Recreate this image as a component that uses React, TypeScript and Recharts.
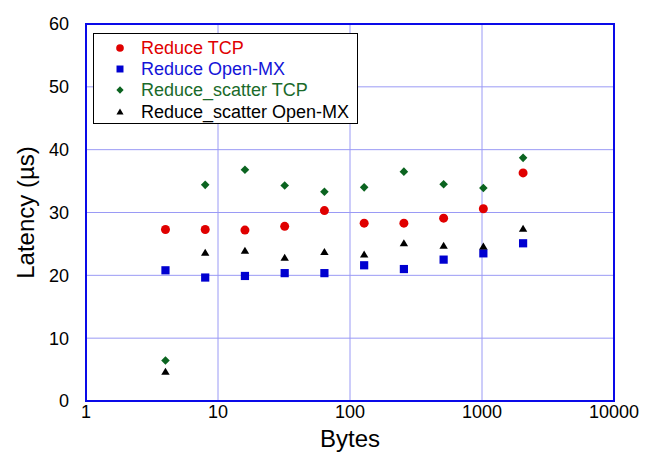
import React from 'react';
import {
  ScatterChart,
  Scatter,
  XAxis,
  YAxis,
  CartesianGrid,
  Label,
  ReferenceArea,
} from 'recharts';

// message size in bytes
const bytes = [4, 8, 16, 32, 64, 128, 256, 512, 1024, 2048];

// latency in µs
const reduceTcp = [27.3, 27.3, 27.2, 27.8, 30.3, 28.3, 28.3, 29.1, 30.6, 36.3];
const reduceOpenMx = [20.8, 19.65, 19.9, 20.35, 20.35, 21.6, 21.0, 22.5, 23.5, 25.1];
const reduceScatterTcp = [6.45, 34.4, 36.8, 34.3, 33.3, 34.0, 36.5, 34.5, 33.9, 38.7];
const reduceScatterOpenMx = [4.65, 23.6, 23.9, 22.8, 23.7, 23.3, 25.1, 24.7, 24.6, 27.4];

const xTicks = [1, 10, 100, 1000, 10000];
const yTicks = [0, 10, 20, 30, 40, 50, 60];

const FONT = '"Liberation Sans", Arial, Helvetica, sans-serif';

const toPoints = (vals: number[]) => bytes.map((b, i) => ({ x: b, y: vals[i] }));

type Kind = 'circle' | 'square' | 'diamond' | 'triangle';

const Marker = ({ kind, cx, cy, color, s = 1 }: { kind: Kind; cx: number; cy: number; color: string; s?: number }) => {
  if (kind === 'circle') return <circle cx={cx} cy={cy} r={4.5 * s} fill={color} />;
  if (kind === 'square') {
    const h = 4.1 * s;
    return <rect x={cx - h} y={cy - h} width={h * 2} height={h * 2} fill={color} />;
  }
  if (kind === 'diamond') {
    const h = 4.3 * s;
    return <polygon points={`${cx},${cy - h} ${cx + h},${cy} ${cx},${cy + h} ${cx - h},${cy}`} fill={color} />;
  }
  const w = 4.2 * s;
  return <polygon points={`${cx},${cy - 4 * s} ${cx + w},${cy + 3 * s} ${cx - w},${cy + 3 * s}`} fill={color} />;
};

const series = [
  { name: 'Reduce TCP', data: reduceTcp, color: '#e00000', text: '#e00000', kind: 'circle' as Kind },
  { name: 'Reduce Open-MX', data: reduceOpenMx, color: '#0000d0', text: '#1414d8', kind: 'square' as Kind },
  { name: 'Reduce_scatter TCP', data: reduceScatterTcp, color: '#0b6420', text: '#1a6a2a', kind: 'diamond' as Kind },
  { name: 'Reduce_scatter Open-MX', data: reduceScatterOpenMx, color: '#000000', text: '#000000', kind: 'triangle' as Kind },
];

const LegendBox = () => (
  <div
    style={{
      position: 'absolute',
      left: 93,
      top: 33,
      border: '1px solid #000',
      background: '#fff',
      width: 265,
      height: 91,
      boxSizing: 'border-box',
      paddingTop: 3,
      fontFamily: FONT,
      fontSize: 18,
    }}
  >
    {series.map((s) => (
      <div key={s.name} style={{ display: 'flex', alignItems: 'center', height: 21.4 }}>
        <svg width={47} height={20} style={{ flexShrink: 0 }}>
          <Marker kind={s.kind} cx={26} cy={10} color={s.color} s={0.85} />
        </svg>
        <span style={{ color: s.text, lineHeight: '20px' }}>{s.name}</span>
      </div>
    ))}
  </div>
);

export default function App() {
  return (
    <div style={{ position: 'absolute', left: 0, top: 0, width: 657, height: 455, background: '#fff' }}>
      <ScatterChart width={657} height={455} margin={{ top: 24, right: 43, bottom: 0, left: 0 }}>
        <CartesianGrid stroke="#9a9af5" strokeWidth={1} />
        <XAxis
          dataKey="x"
          type="number"
          scale="log"
          domain={[1, 10000]}
          ticks={xTicks}
          allowDataOverflow
          height={54}
          axisLine={false}
          tickLine={false}
          tickSize={0}
          tickMargin={4}
          tick={{ fill: '#000', fontSize: 18, fontFamily: FONT }}
        >
          <Label
            value="Bytes"
            position="insideBottom"
            offset={8}
            style={{ fill: '#000', fontSize: 24, fontFamily: FONT }}
          />
        </XAxis>
        <YAxis
          dataKey="y"
          type="number"
          domain={[0, 60]}
          ticks={yTicks}
          width={86}
          axisLine={false}
          tickLine={false}
          tickSize={0}
          tickMargin={17}
          tick={{ fill: '#000', fontSize: 18, fontFamily: FONT }}
        >
          <Label
            value="Latency (µs)"
            angle={-90}
            position="insideLeft"
            offset={25}
            style={{ fill: '#000', fontSize: 24, fontFamily: FONT, textAnchor: 'middle' }}
          />
        </YAxis>
        <ReferenceArea x1={1} x2={10000} y1={0} y2={60} fill="none" stroke="#0a0ae8" strokeWidth={2} />
        {series.map((s) => (
          <Scatter
            key={s.name}
            name={s.name}
            data={toPoints(s.data)}
            fill={s.color}
            isAnimationActive={false}
            shape={(p: any) => <Marker kind={s.kind} cx={p.cx} cy={p.cy} color={s.color} />}
          />
        ))}
      </ScatterChart>
      <LegendBox />
    </div>
  );
}
